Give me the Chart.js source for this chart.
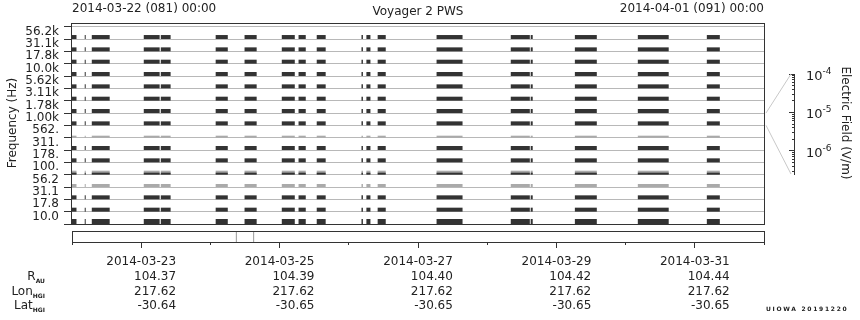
<!DOCTYPE html>
<html><head><meta charset="utf-8">
<script src="https://cdn.jsdelivr.net/npm/chart.js@4.4.1/dist/chart.umd.min.js"></script>
<style>
html,body{margin:0;padding:0;background:#fff;}
#wrap{position:relative;width:860px;height:320px;overflow:hidden;font-family:'DejaVu Sans',sans-serif;color:#222;font-size:12px;}
canvas{position:absolute;left:0;top:0;}
.t{position:absolute;white-space:nowrap;line-height:14px;height:14px;}
.sb{font-size:6px;font-weight:bold;position:relative;top:3px;}
.sp{font-size:9px;position:relative;top:-6px;}
</style></head><body>
<div id="wrap">
<canvas id="main" width="860" height="320"></canvas>
<canvas id="time" width="860" height="320"></canvas>
<canvas id="ef" width="860" height="320"></canvas>
<svg id="conn" width="860" height="320" style="position:absolute;left:0;top:0"></svg>
</div>
<script>
// ---------- data ----------
const channelLabels = ['10.0','17.8','31.1','56.2','100.','178.','311.','562.','1.00k','1.78k','3.11k','5.62k','10.0k','17.8k','31.1k','56.2k'];
const channelStrength = [1.2,1,1,0.35,0.6,1,1,0.2,1,1,1,1,1,1,1,1];
const segmentHours = [[0.0,1.9],[4.75,5.1],[7.2,13.4],[25.2,30.7],[31.1,34.5],[50.1,54.3],[60.1,64.3],[73.0,77.5],[78.8,81.3],[85.1,88.2],[100.6,101.1],[102.3,103.7],[106.2,109.0],[126.6,135.6],[152.3,158.9],[159.2,159.9],[174.5,182.1],[196.3,207.0],[220.2,224.7]];
const dateTickHours = [24,72,120,168,216];
const dateLabels = ['2014-03-23','2014-03-25','2014-03-27','2014-03-29','2014-03-31'];
const rAU = ['104.37','104.39','104.40','104.42','104.44'];
const lonHGI = ['217.62','217.62','217.62','217.62','217.62'];
const latHGI = ['-30.64','-30.65','-30.65','-30.65','-30.65'];
const markerHours = [57,63];
const selectedChannel = 8;
const efDecades = [-4,-5,-6];
const efMinExp = -6.6;
const headerLeft = '2014-03-22 (081) 00:00';
const headerRight = '2014-04-01 (091) 00:00';
const titleText = 'Voyager 2 PWS';

// ---------- setup ----------
Chart.defaults.font.family = "'DejaVu Sans', sans-serif";
Chart.defaults.font.size = 12;
Chart.defaults.color = '#222';
Chart.defaults.animation = false;
Chart.defaults.responsive = false;
Chart.defaults.plugins.legend.display = false;
Chart.defaults.plugins.tooltip.enabled = false;

const frame = {
  id: 'frame',
  afterDatasetsDraw(chart) {
    const a = chart.chartArea, c = chart.ctx;
    c.save(); c.strokeStyle = '#333'; c.lineWidth = 1;
    c.strokeRect(a.left + 0.5, a.top + 0.5, a.right - a.left, a.bottom - a.top);
    c.restore();
  }
};

const Y_MAX = 16.3;
const MAIN = {left:71, top:23, right:764, bottom:224};
const pxPerUnit = (MAIN.bottom - MAIN.top) / Y_MAX;

function barDataset(k, thick, color, order) {
  return {
    data: segmentHours.map(s => ({x: [s[0], s[1]], y: k + thick / 2 / pxPerUnit})),
    backgroundColor: color, barThickness: thick, grouped: false,
    borderWidth: 0, borderSkipped: false, inflateAmount: 0, order: order
  };
}
const datasets = [];
channelStrength.forEach((st, k) => {
  if (st >= 0.9) datasets.push(barDataset(k, st > 1.1 ? 5 : 4, '#333', 0));
  else if (st >= 0.5) { datasets.push(barDataset(k, 4, '#aaa', 1)); datasets.push(barDataset(k, 2, '#333', 0)); }
  else datasets.push(barDataset(k, st > 0.3 ? 3 : 2, '#aaa', 1));
});

const mainChart = new Chart(document.getElementById('main'), {
  type: 'bar',
  data: {datasets},
  options: {
    indexAxis: 'y',
    layout: {padding: {left: 0, top: MAIN.top, right: 860 - MAIN.right, bottom: 320 - MAIN.bottom}},
    scales: {
      x: {type: 'linear', min: 0, max: 240, display: false, offset: false},
      y: {
        type: 'linear', min: 0, max: Y_MAX, offset: false,
        afterBuildTicks: s => { s.ticks = Array.from({length: 17}, (_, i) => ({value: i})); },
        afterFit: s => { s.width = MAIN.left; },
        grid: {offset: false, color: '#b8b8b8', lineWidth: 1, tickColor: '#333', tickLength: 7, drawOnChartArea: true},
        border: {display: true, color: '#333', width: 1},
        ticks: {labelOffset: 5, padding: 5, color: '#222', autoSkip: false,
          callback: v => (v >= 1 ? channelLabels[v - 1] : '')}
      }
    }
  },
  plugins: [frame]
});

const TIME = {left:72, top:231, right:764, bottom:242};
const timeChart = new Chart(document.getElementById('time'), {
  type: 'line',
  data: {datasets: markerHours.map(m => ({data: [{x: m, y: 0}, {x: m, y: 1}], borderColor: '#999', borderWidth: 1, pointRadius: 0, xAxisID: 'x'}))},
  options: {
    layout: {padding: {left: TIME.left, top: TIME.top, right: 860 - TIME.right, bottom: 0}},
    scales: {
      x: {type: 'linear', min: 0, max: 240, position: 'bottom', weight: 0,
        afterFit: s => { s.height = 0; },
        afterBuildTicks: s => { s.ticks = Array.from({length: 11}, (_, i) => ({value: i * 24})); },
        grid: {drawOnChartArea: false, tickLength: 3, tickColor: '#333'},
        border: {display: false}, ticks: {display: false}},
      xl: {type: 'linear', min: 0, max: 240, position: 'bottom', weight: 1,
        afterFit: s => { s.height = 320 - TIME.bottom; },
        afterBuildTicks: s => { s.ticks = dateTickHours.map(v => ({value: v})); },
        grid: {drawOnChartArea: false, tickLength: 6, tickColor: '#333'},
        border: {display: false},
        ticks: {padding: 7, color: '#222', autoSkip: false, maxRotation: 0, minRotation: 0,
          callback: v => dateLabels[dateTickHours.indexOf(v)]}},
      y: {display: false, min: 0, max: 1}
    }
  },
  plugins: [frame]
});

const EF = {left:794, top:74, right:804, bottom:174};
const minorTicks = [];
for (let e = -7; e < -4; e++) for (let m = 2; m <= 9; m++) minorTicks.push(m * Math.pow(10, e));
const efChart = new Chart(document.getElementById('ef'), {
  type: 'line',
  data: {datasets: []},
  options: {
    layout: {padding: {left: EF.left, top: EF.top, right: 860 - EF.right, bottom: 320 - EF.bottom}},
    scales: {
      x: {type: 'linear', min: 0, max: 1, display: false},
      y: {type: 'logarithmic', position: 'left', min: Math.pow(10, efMinExp), max: 1e-4,
        afterFit: s => { s.width = 0; },
        afterBuildTicks: s => { s.ticks = efDecades.map(d => ({value: Math.pow(10, d)})); },
        grid: {drawOnChartArea: false, tickLength: 5, tickColor: '#333'},
        border: {display: true, color: '#333'}, ticks: {display: false}},
      y2: {type: 'logarithmic', position: 'left', min: Math.pow(10, efMinExp), max: 1e-4,
        afterFit: s => { s.width = 0; },
        afterBuildTicks: s => { s.ticks = minorTicks.filter(v => v >= Math.pow(10, efMinExp) && v <= 1e-4).map(v => ({value: v})); },
        grid: {drawOnChartArea: false, tickLength: 2, tickColor: '#333'},
        border: {display: false}, ticks: {display: false}}
    }
  }
});

// ---------- text ----------
const wrap = document.getElementById('wrap');
function addText(html, style) {
  const d = document.createElement('div');
  d.className = 't'; d.innerHTML = html;
  Object.assign(d.style, style);
  wrap.appendChild(d); return d;
}
addText(headerLeft, {left: '72px', top: '1px'});
addText(titleText, {left: '318px', width: '200px', textAlign: 'center', top: '4px'});
addText(headerRight, {right: (860 - 764) + 'px', top: '1px'});
addText('Frequency (Hz)', {left: (12 - 60) + 'px', width: '120px', textAlign: 'center', top: (123 - 7) + 'px', transform: 'rotate(-90deg)'});
addText('Electric Field (V/m)', {left: (846 - 70) + 'px', width: '140px', textAlign: 'center', top: (123 - 7) + 'px', transform: 'rotate(90deg)'});

const rowCenters = [275.7, 290.7, 305];
const rowNames = ['R<span class="sb">AU</span>', 'Lon<span class="sb">HGI</span>', 'Lat<span class="sb">HGI</span>'];
const rowVals = [rAU, lonHGI, latHGI];
const mctx = document.createElement('canvas').getContext('2d');
mctx.font = "12px 'DejaVu Sans'";
rowNames.forEach((n, r) => {
  addText(n, {right: (860 - 45) + 'px', top: (rowCenters[r] - 7) + 'px'});
  dateTickHours.forEach((h, i) => {
    const x = timeChart.scales.xl.getPixelForValue(h);
    const right = x + mctx.measureText(dateLabels[i]).width / 2;
    addText(rowVals[r][i], {left: (right - 100) + 'px', width: '100px', textAlign: 'right', top: (rowCenters[r] - 7) + 'px'});
  });
});

efDecades.forEach(d => {
  const y = efChart.scales.y.getPixelForValue(Math.pow(10, d));
  addText('10<span class="sp">' + d + '</span>', {left: '806px', top: (y + 2 - 7) + 'px', fontSize: '13px'});
});

addText('UIOWA 20191220', {left: '766px', top: '302px', fontSize: '6px', fontWeight: 'bold', letterSpacing: '1.7px'});

// connector lines from selected channel to electric field axis
const svg = document.getElementById('conn');
const ya = mainChart.scales.y.getPixelForValue(selectedChannel + 1);
const yb = mainChart.scales.y.getPixelForValue(selectedChannel);
const xr = mainChart.chartArea.right + 2;
const xe = efChart.chartArea.left - 3;
svg.innerHTML =
  '<line x1="' + xr + '" y1="' + ya + '" x2="' + xe + '" y2="' + efChart.chartArea.top + '" stroke="#c8c8c8" stroke-width="1"/>' +
  '<line x1="' + xr + '" y1="' + yb + '" x2="' + xe + '" y2="' + efChart.chartArea.bottom + '" stroke="#c8c8c8" stroke-width="1"/>';
</script>
</body></html>
